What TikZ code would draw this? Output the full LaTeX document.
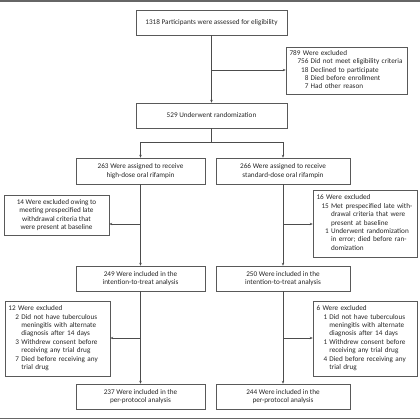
\documentclass[tikz,border=0pt]{standalone}
\usepackage{fontspec}
\setmainfont{Carlito}
\usepackage{tikz}
\usetikzlibrary{arrows.meta,positioning,calc}

\begin{document}
\begin{tikzpicture}[
    x=1pt, y=-1pt,
    >={Stealth[length=3pt,width=2.4pt]},
    box/.style={
        draw=black!65,
        line width=0.5pt,
        align=center,
        inner sep=0pt,
        text=black!85,
        font=\fontsize{7.2}{8.4}\selectfont
    },
    mainbox/.style={box, minimum height=25pt},
    exclbox/.style={box, align=left, inner xsep=3.5pt},
    flow/.style={->, line width=0.5pt, black!70},
    link/.style={line width=0.5pt, black!70},
    rulebar/.style={line width=1.6pt, black!60}
]
\useasboundingbox (0,0) rectangle (420,420);

% rules at top and bottom
\draw[rulebar] (0,0.8) -- (420,0.8);
\draw[rulebar] (0,418.6) -- (420,418.6);

% enrollment
\node[mainbox, minimum width=151pt] (assess) at (211.5,22.5) {1318 Participants were assessed for eligibility};
\node[exclbox, text width=114pt, minimum height=47pt] (excl1) at (346.5,70.5) {%
\begin{tabular}{@{}r@{\hspace{2.2pt}}l@{}}
\multicolumn{2}{@{}l}{789 Were excluded}\\
\hspace{8pt}756 & Did not meet eligibility criteria\\
18 & Declined to participate\\
8 & Died before enrollment\\
7 & Had other reason
\end{tabular}};
\node[mainbox, minimum width=151pt] (random) at (211.5,115.5) {529 Underwent randomization};

% allocation
\node[mainbox, minimum width=129pt, minimum height=26pt] (high) at (140.5,171) {263 Were assigned to receive\\high-dose oral rifampin};
\node[mainbox, minimum width=134pt, minimum height=26pt] (std) at (283,171) {266 Were assigned to receive\\standard-dose oral rifampin};

\node[box, minimum width=105pt, minimum height=40pt] (excl2l) at (56.5,215) {14 Were excluded owing to\\meeting prespecified late\\withdrawal criteria that\\were present at baseline};
\node[exclbox, text width=97pt, minimum height=67pt] (excl2r) at (365,223.5) {%
\begin{tabular}{@{}r@{\hspace{2.2pt}}l@{}}
\multicolumn{2}{@{}l}{16 Were excluded}\\
\hspace{5pt}15 & Met prespecified late with-\\
 & drawal criteria that were\\
 & present at baseline\\
1 & Underwent randomization\\
 & in error; died before ran-\\
 & domization
\end{tabular}};

% analysis
\node[mainbox, minimum width=129pt] (ittl) at (140.5,278.5) {249 Were included in the\\intention-to-treat analysis};
\node[mainbox, minimum width=134pt] (ittr) at (283,278.5) {250 Were included in the\\intention-to-treat analysis};

\node[exclbox, text width=98pt, minimum height=75pt] (excl3l) at (57.5,338.5) {%
\begin{tabular}{@{}r@{\hspace{2.2pt}}l@{}}
\multicolumn{2}{@{}l}{12 Were excluded}\\
\hspace{7pt}2 & Did not have tuberculous\\
 & meningitis with alternate\\
 & diagnosis after 14 days\\
3 & Withdrew consent before\\
 & receiving any trial drug\\
7 & Died before receiving any\\
 & trial drug
\end{tabular}};
\node[exclbox, text width=97pt, minimum height=75pt] (excl3r) at (365,338.5) {%
\begin{tabular}{@{}r@{\hspace{2.2pt}}l@{}}
\multicolumn{2}{@{}l}{6 Were excluded}\\
\hspace{7pt}1 & Did not have tuberculous\\
 & meningitis with alternate\\
 & diagnosis after 14 days\\
1 & Withdrew consent before\\
 & receiving any trial drug\\
4 & Died before receiving any\\
 & trial drug
\end{tabular}};

\node[mainbox, minimum width=129pt] (ppl) at (140.5,396.5) {237 Were included in the\\per-protocol analysis};
\node[mainbox, minimum width=134pt] (ppr) at (283,396.5) {244 Were included in the\\per-protocol analysis};

% connectors
\coordinate (j1) at (211.5,70);
\coordinate (split) at (211.5,142);
\coordinate (j2l) at (140.5,224);
\coordinate (j2r) at (283,224);
\coordinate (j3l) at (140.5,338);
\coordinate (j3r) at (283,338);

\draw[flow] (assess) -- (random);
\draw[flow] (j1) -- (excl1.west |- j1);
\draw[link] (random) -- (split);
\draw[flow] (split) -| (high);
\draw[flow] (split) -| (std);

\draw[flow] (high) -- (ittl);
\draw[flow] (std) -- (ittr);
\draw[flow] (j2l) -- (excl2l.east |- j2l);
\draw[flow] (j2r) -- (excl2r.west |- j2r);

\draw[flow] (ittl) -- (ppl);
\draw[flow] (ittr) -- (ppr);
\draw[flow] (j3l) -- (excl3l.east |- j3l);
\draw[flow] (j3r) -- (excl3r.west |- j3r);

\end{tikzpicture}
\end{document}
